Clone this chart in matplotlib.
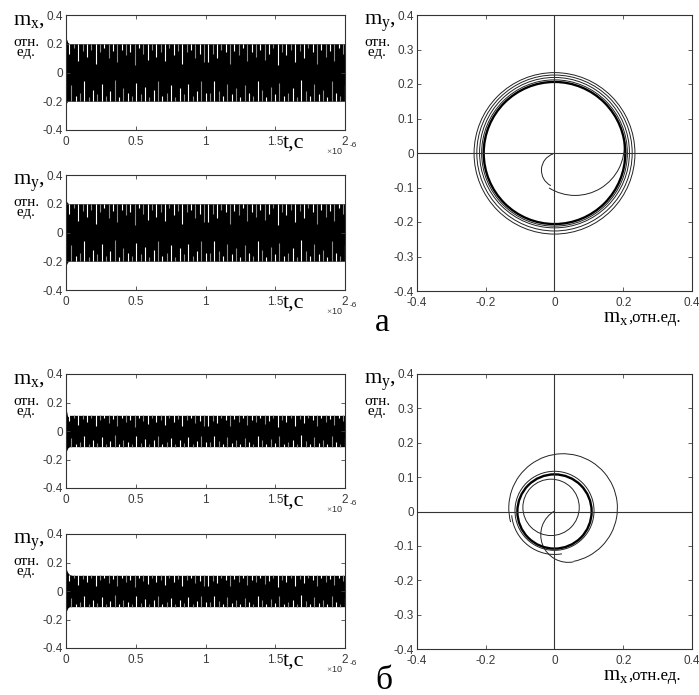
import matplotlib
matplotlib.use('Agg')
import matplotlib.pyplot as plt
from matplotlib.patches import Circle, Arc
from matplotlib import transforms
import numpy as np

plt.rcParams['mathtext.fontset'] = 'custom'
plt.rcParams['mathtext.rm'] = 'Liberation Serif'
plt.rcParams['mathtext.it'] = 'Liberation Serif:italic'

##-------------------------------------------------------------
# time-series envelopes (t in s)
t_env_a = [0.0, 0.005e-6, 0.012e-6, 0.025e-6, 2.0e-6]
mx_up_a = [0.24, 0.23, 0.21, 0.2, 0.2]
mx_lo_a = [-0.22, -0.21, -0.2, -0.2, -0.2]
my_up_a = [0.225, 0.215, 0.205, 0.2, 0.2]
my_lo_a = [-0.23, -0.22, -0.205, -0.2, -0.2]

t_env_b = [0.0, 0.004e-6, 0.012e-6, 0.025e-6, 0.045e-6, 2.0e-6]
mx_up_b = [0.2, 0.14, 0.1, 0.11, 0.11, 0.11]
mx_lo_b = [-0.06, -0.14, -0.12, -0.11, -0.11, -0.11]
my_up_b = [0.16, 0.15, 0.13, 0.115, 0.11, 0.11]
my_lo_b = [-0.15, -0.14, -0.12, -0.11, -0.11, -0.11]

# aliasing streaks inside the band: depth from the edge, fraction of amplitude
gap_top = [0.35, 0.15, 0.6, 0.25, 0.45, 0.2, 0.7, 0.3, 0.15, 0.5, 0.25, 0.65,
           0.2, 0.4, 0.3, 0.75, 0.15, 0.35, 0.55, 0.2, 0.45, 0.3, 0.6, 0.15,
           0.4, 0.25, 0.7, 0.3, 0.2, 0.5, 0.35, 0.65]
gap_bot = [0.55, 0.2, 0.3, 0.7, 0.15, 0.4, 0.25, 0.6, 0.2, 0.35, 0.75, 0.15,
           0.45, 0.3, 0.2, 0.65, 0.25, 0.5, 0.15, 0.4, 0.7, 0.2, 0.3, 0.55,
           0.15, 0.45, 0.25, 0.6, 0.2, 0.35, 0.7, 0.3]

# phase plane, case a: transient arcs (cx, cy, r, theta1, theta2) and loops
arc_a_cx = [0.012, 0.06]
arc_a_cy = [-0.05, 0.02]
arc_a_r = [0.05, 0.143]
arc_a_t1 = [109, 238]
arc_a_t2 = [243, 365]
loops_a_r = [0.234, 0.226, 0.218, 0.212]
loops_a_cx = [0.0, 0.0, 0.0, 0.0]
loops_a_cy = [-0.001, 0.0, 0.001, 0.0]
limit_a_r = 0.206

# phase plane, case b
arc_b_cx = [0.04, 0.025, 0.0]
arc_b_cy = [-0.068, 0.01, 0.0]
arc_b_r = [0.08, 0.158, 0.125]
arc_b_t1 = [120, -79, 185]
arc_b_t2 = [281, 195, 280]
loops_b_r = [0.115, 0.082]
loops_b_cx = [0.0, -0.01]
loops_b_cy = [0.002, 0.012]
limit_b_r = 0.108

##-------------------------------------------------------------
W, H = 699, 695
fig = plt.figure(figsize=(W / 100, H / 100), dpi=100)

def box(l, t, r, b):
    return [l / W, 1 - b / H, (r - l) / W, (b - t) / H]

serif = 'Liberation Serif'

def style(ax):
    for s in ax.spines.values():
        s.set_color('#333333')
        s.set_linewidth(0.8)
    ax.tick_params(direction='in', length=3, width=0.6, color='#444444',
                   top=True, right=True, labelsize=8.5,
                   labelcolor='#3a3a3a')
    ax.tick_params(axis='x', pad=4)
    ax.tick_params(axis='y', pad=2)
    for lab in ax.get_xticklabels() + ax.get_yticklabels():
        lab.set_family('Liberation Sans')

def place(ax, s, corner, dx, dy, **kw):
    tr = transforms.offset_copy(ax.transAxes, fig=fig, x=dx, y=dy, units='dots')
    ax.text(corner[0], corner[1], s, transform=tr, clip_on=False, **kw)

def ylab(ax, sub):
    place(ax, r'$\mathrm{m}_{\mathrm{%s}}$,' % sub, (0, 1), -53, -10,
          fontsize=16, family=serif, va='baseline')
    place(ax, 'отн.\n ед.', (0, 1), -53, -21, fontsize=11, family=serif,
          va='top', linespacing=0.7)

def fmt(v):
    v = round(v, 6)
    return '0' if v == 0 else f'{v:g}'

def series(ax, t, up, lo, sub):
    ax.fill_between(t, lo, up, color='black', lw=0)
    amp = up[-1]
    n = 2 * len(gap_top)
    gt = np.linspace(t[3], 1.985e-6, n)
    d_top = np.concatenate([gap_top, gap_top[::-1]])
    d_bot = np.concatenate([gap_bot, gap_bot[::-1]])
    cols = ['white', '#8c8c8c'] * (n // 2)
    ax.vlines(gt, amp - d_top * amp, amp, colors=cols, lw=0.8)
    ax.vlines(gt + 0.012e-6, -amp, -amp + d_bot * amp, colors=cols[::-1], lw=0.8)
    ax.set_xlim(0, 2e-6)
    ax.set_ylim(-0.4, 0.4)
    xt = [0, 0.5e-6, 1e-6, 1.5e-6, 2e-6]
    ax.set_xticks(xt)
    ax.set_xticklabels([fmt(v * 1e6) for v in xt])
    yt = [-0.4, -0.2, 0, 0.2, 0.4]
    ax.set_yticks(yt)
    ax.set_yticklabels([fmt(v) for v in yt])
    style(ax)
    ylab(ax, sub)
    place(ax, 't,c', (1, 0), -62, -18, fontsize=16, family=serif, va='baseline')
    place(ax, r'$\times$10', (1, 0), -19, -24, fontsize=6.5,
          family='Liberation Sans', color='#333333', va='baseline')
    place(ax, '-6', (1, 0), 5, -17, fontsize=6, family='Liberation Sans',
          color='#333333', va='baseline')

def phase(ax, acx, acy, ar, at1, at2, rr, cx, cy, rlim, label_char):
    ax.axhline(0, color='#333333', lw=0.8)
    ax.axvline(0, color='#333333', lw=0.8)
    for x0, y0, r, t1, t2 in zip(acx, acy, ar, at1, at2):
        ax.add_patch(Arc((x0, y0), 2 * r, 2 * r, theta1=t1, theta2=t2,
                         ec='#222222', lw=0.7))
    for r, x0, y0 in zip(rr, cx, cy):
        ax.add_patch(Circle((x0, y0), r, fill=False, ec='#222222', lw=0.7))
    ax.add_patch(Circle((0, 0), rlim, fill=False, ec='black', lw=1.7))
    ax.set_xlim(-0.4, 0.4)
    ax.set_ylim(-0.4, 0.4)
    xt = [-0.4, -0.2, 0, 0.2, 0.4]
    ax.set_xticks(xt)
    ax.set_xticklabels([fmt(v) for v in xt])
    yt = [-0.4, -0.3, -0.2, -0.1, 0, 0.1, 0.2, 0.3, 0.4]
    ax.set_yticks(yt)
    ax.set_yticklabels([fmt(v) for v in yt])
    style(ax)
    ylab(ax, 'y')
    place(ax, r'$\mathrm{m}_{\mathrm{x}}$', (1, 0), -89, -31,
          fontsize=15, family=serif, va='baseline')
    place(ax, ',отн.ед.', (1, 0), -64, -31,
          fontsize=12, family=serif, va='baseline')
    place(ax, label_char, (0, 0), -42, -40, fontsize=24, family=serif,
          va='baseline')

# row a
ax1 = fig.add_axes(box(66, 15, 345, 130))
series(ax1, t_env_a, mx_up_a, mx_lo_a, 'x')
ax2 = fig.add_axes(box(66, 175, 345, 290))
series(ax2, t_env_a, my_up_a, my_lo_a, 'y')
ax3 = fig.add_axes(box(417, 15, 692, 291))
phase(ax3, arc_a_cx, arc_a_cy, arc_a_r, arc_a_t1, arc_a_t2,
      loops_a_r, loops_a_cx, loops_a_cy, limit_a_r, 'а')

# row b
ax4 = fig.add_axes(box(66, 374, 345, 488))
series(ax4, t_env_b, mx_up_b, mx_lo_b, 'x')
ax5 = fig.add_axes(box(66, 534, 345, 648))
series(ax5, t_env_b, my_up_b, my_lo_b, 'y')
ax6 = fig.add_axes(box(417, 374, 692, 649))
phase(ax6, arc_b_cx, arc_b_cy, arc_b_r, arc_b_t1, arc_b_t2,
      loops_b_r, loops_b_cx, loops_b_cy, limit_b_r, 'б')

plt.savefig('out.png', dpi=100)
